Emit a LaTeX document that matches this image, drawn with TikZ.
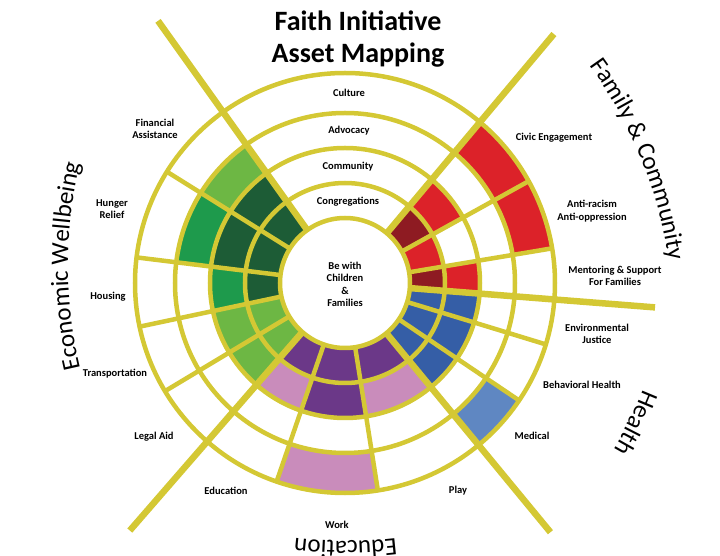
\documentclass[tikz,border=0pt]{standalone}
\usepackage{fontspec}
\setmainfont{Carlito}
\usetikzlibrary{decorations.text}

\definecolor{faithyellow}{RGB}{212,200,52}
\definecolor{dkgreen}{RGB}{29,92,54}
\definecolor{mdgreen}{RGB}{30,154,76}
\definecolor{ltgreen}{RGB}{109,183,68}
\definecolor{purp}{RGB}{107,56,136}
\definecolor{pinkish}{RGB}{201,140,187}
\definecolor{blu}{RGB}{53,94,166}
\definecolor{ltblu}{RGB}{95,135,194}
\definecolor{rd}{RGB}{220,34,41}
\definecolor{dkrd}{RGB}{142,27,34}

% one cell of the wheel: start angle, end angle, inner radius, outer radius, colour
\newcommand{\asset}[5]{\fill[fill=#5] (#1:#3) arc[start angle=#1,end angle=#2,radius=#3]
  -- (#2:#4) arc[start angle=#2,end angle=#1,radius=#4] -- cycle;}

\begin{document}
\begin{tikzpicture}[x=1pt,y=1pt,
  divline/.style={faithyellow,line width=4.5pt},
  mainline/.style={faithyellow,line width=6.5pt},
  lbl/.style={font=\bfseries\fontsize{10.5}{12.3}\selectfont,align=center},
  cattext/.style={decorate,decoration={text along path,text align=center,
    text format delimiters={|}{|},text={|\fontsize{25}{30}\selectfont|#1}}}]
\useasboundingbox (-345,-273) rectangle (375,283);

\foreach \a/\b/\cA/\cB/\cC/\cD in {125.5/148/dkgreen/dkgreen/ltgreen/white,
  148/173/dkgreen/dkgreen/mdgreen/white, 173/192/dkgreen/mdgreen/white/white,
  192/211/ltgreen/ltgreen/white/white, 211/229/ltgreen/ltgreen/white/white,
  229/251/purp/pinkish/white/white, 251/279/purp/purp/white/pinkish,
  279/309.5/purp/pinkish/white/white, 309.5/326/blu/blu/white/ltblu,
  326/343/blu/blu/white/white, 343/355.5/blu/blu/white/white,
  -4.5/9.5/dkrd/rd/white/white, 9.5/29/rd/white/white/rd, 29/50/dkrd/rd/white/rd}{
  \asset{\a}{\b}{65}{100}{\cA}
  \asset{\a}{\b}{100}{135}{\cB}
  \asset{\a}{\b}{135}{170}{\cC}
  \asset{\a}{\b}{170}{210}{\cD}}

\foreach \r in {100,135,170,210} \draw[divline] (0,0) circle[radius=\r];
\foreach \a in {148,173,192,211,251,279,326,343,9.5,29} \draw[divline] (\a:65) -- (\a:210);
\foreach \a/\l in {125.5/322,50/325,-4.5/311,-50.5/323,229/328} \draw[mainline] (\a:65) -- (\a:\l);
\draw[divline,fill=white] (0,0) circle[radius=65];

\node[font=\bfseries\fontsize{28}{32}\selectfont,align=center] (title) at (13,244) {Faith Initiative\\Asset Mapping};
\node[lbl] (centre) at (0,-1.5) {Be with\\Children\\\&\\Families};

\node[lbl] (culture) at (4,190) {Culture};
\node[lbl] (advocacy) at (4,152) {Advocacy};
\node[lbl] (community) at (3,116) {Community};
\node[lbl] (congregations) at (3,81) {Congregations};

\node[lbl] (financial) at (-190,154) {Financial\\Assistance};
\node[lbl] (hunger) at (-233,74) {Hunger\\Relief};
\node[lbl] (housing) at (-237,-14) {Housing};
\node[lbl] (transport) at (-230,-91) {Transportation};
\node[lbl] (legal) at (-191,-154) {Legal Aid};
\node[lbl] (educ) at (-119,-208) {Education};
\node[lbl] (work) at (-8,-242) {Work};
\node[lbl] (play) at (113,-208) {Play};
\node[lbl] (medical) at (187,-153) {Medical};
\node[lbl] (behav) at (237,-102) {Behavioral Health};
\node[lbl] (environ) at (252,-51) {Environmental\\Justice};
\node[lbl] (mentor) at (270,7) {Mentoring \& Support\\For Families};
\node[lbl] (antiracism) at (247,72) {Anti-racism\\Anti-oppression};
\node[lbl] (civic) at (209,145) {Civic Engagement};

\path[cattext={Economic Wellbeing}] (163,17) ++(196:440) arc[start angle=196,end angle=164,radius=440];
\path[cattext={Family {\&} Community}] (-112,-40) ++(38:440) arc[start angle=38,end angle=6,radius=440];
\path[cattext={Health}] (-111,56) ++(-16:440) arc[start angle=-16,end angle=-36,radius=440];
\path[cattext={Education}] (0.5,182) ++(-78:440) arc[start angle=-78,end angle=-102,radius=440];
\end{tikzpicture}
\end{document}
